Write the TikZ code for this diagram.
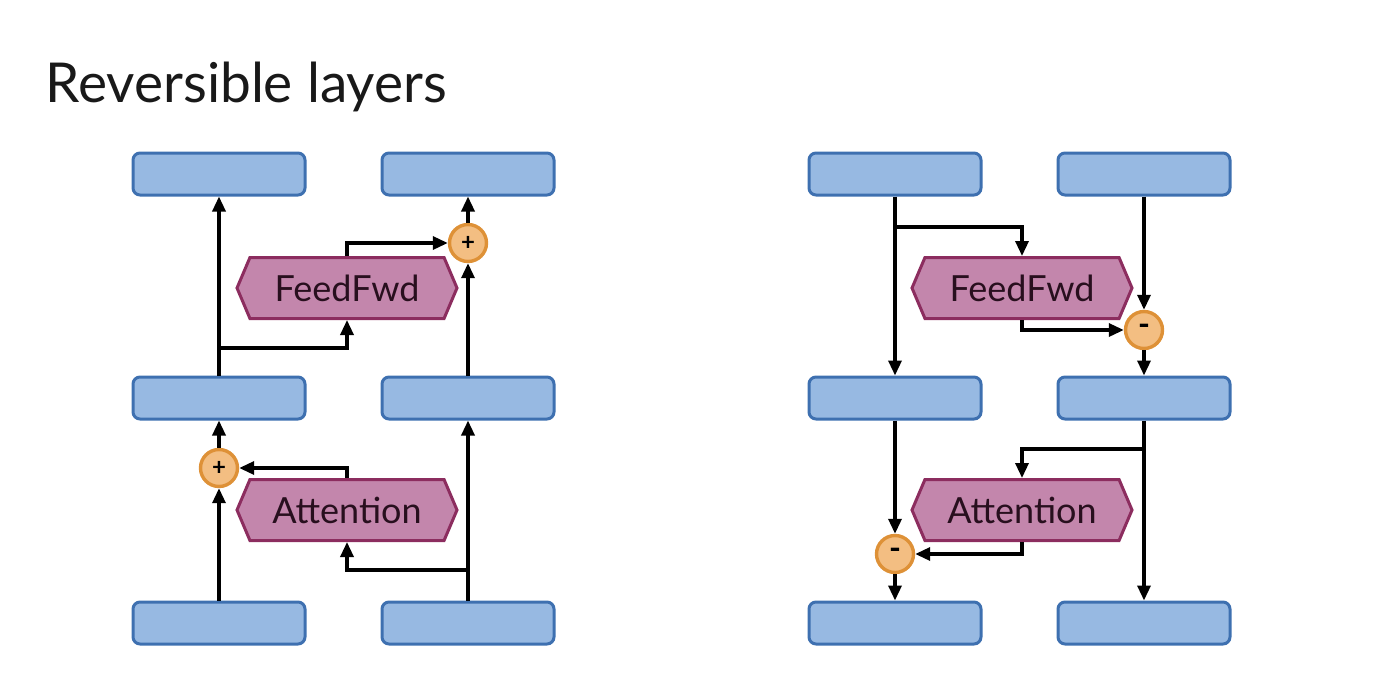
\documentclass[tikz,border=0pt]{standalone}
\usepackage{fontspec}
\setmainfont{Lato}
\usepackage{tikz}
\usepackage{xcolor}
\usetikzlibrary{arrows.meta}
\usetikzlibrary{shapes.symbols}

\definecolor{blkfill}{RGB}{151,185,226}
\definecolor{blkdraw}{RGB}{62,112,176}
\definecolor{hexfill}{RGB}{195,134,172}
\definecolor{hexdraw}{RGB}{140,45,95}
\definecolor{hextext}{RGB}{40,15,30}
\definecolor{opfill}{RGB}{243,190,130}
\definecolor{opdraw}{RGB}{222,145,55}

\tikzset{
    blk/.style={draw=blkdraw, fill=blkfill, line width=3pt, rounded corners=7pt,
        minimum width=172pt, minimum height=42pt, inner sep=0pt},
    hexa/.style={draw=hexdraw, fill=hexfill, line width=3pt, shape=signal,
        signal to=west and east, signal pointer angle=134,
        minimum width=220pt, minimum height=61pt, inner sep=0pt,
        text=hextext, font=\fontsize{36}{40}\selectfont},
    op/.style={circle, draw=opdraw, fill=opfill, line width=3.4pt,
        minimum size=37pt, inner sep=0pt, font=\fontsize{24}{26}\selectfont\bfseries},
    opminus/.style={op, font=\fontsize{32}{32}\selectfont\bfseries},
    arr/.style={-{Triangle[length=15pt,width=13pt]}, line width=3.3pt, black},
}

\begin{document}
\begin{tikzpicture}[x=1pt, y=-1pt]

    \useasboundingbox (0,0) rectangle (1378,672);

    \node[anchor=base west, font=\fontsize{55}{62}\selectfont, text=black!90] (title) at (42,102) {Reversible layers};

    % forward
    \node[blk] (X1) at (219,623) {};
    \node[blk] (X2) at (468,623) {};
    \node[blk] (Y1) at (219,398) {};
    \node[blk] (Y2) at (468,398) {};
    \node[blk] (Z1) at (219,174) {};
    \node[blk] (Z2) at (468,174) {};

    \node[hexa] (Att) at (347,510) {Attention};
    \node[hexa] (FF) at (347,288) {FeedFwd};
    \node[op] (P1) at (219,468) {+};
    \node[op] (P2) at (468,243) {+};

    \coordinate (s1) at (468,570);
    \coordinate (s2) at (219,348);

    \draw[arr] (X1.north) -- (P1.south);
    \draw[arr] (P1.north) -- (Y1.south);
    \draw[arr] (X2.north) -- (Y2.south);
    \draw[arr] (s1) -| (Att.south);
    \draw[arr] (Att.north) |- (P1.east);
    \draw[arr] (Y1.north) -- (Z1.south);
    \draw[arr] (s2) -| (FF.south);
    \draw[arr] (Y2.north) -- (P2.south);
    \draw[arr] (P2.north) -- (Z2.south);
    \draw[arr] (FF.north) |- (P2.west);

    % reverse
    \node[blk] (RX1) at (895,623) {};
    \node[blk] (RX2) at (1144,623) {};
    \node[blk] (RY1) at (895,398) {};
    \node[blk] (RY2) at (1144,398) {};
    \node[blk] (RZ1) at (895,174) {};
    \node[blk] (RZ2) at (1144,174) {};

    \node[hexa] (RAtt) at (1022,510) {Attention};
    \node[hexa] (RFF) at (1022,288) {FeedFwd};
    \node[opminus] (M1) at (1144,330) {-};
    \node[opminus] (M2) at (895,554) {-};

    \coordinate (t1) at (895,227);
    \coordinate (t2) at (1144,449);

    \draw[arr] (RZ1.south) -- (RY1.north);
    \draw[arr] (t1) -| (RFF.north);
    \draw[arr] (RZ2.south) -- (M1.north);
    \draw[arr] (M1.south) -- (RY2.north);
    \draw[arr] (RFF.south) |- (M1.west);
    \draw[arr] (RY2.south) -- (RX2.north);
    \draw[arr] (t2) -| (RAtt.north);
    \draw[arr] (RY1.south) -- (M2.north);
    \draw[arr] (M2.south) -- (RX1.north);
    \draw[arr] (RAtt.south) |- (M2.east);
\end{tikzpicture}
\end{document}
